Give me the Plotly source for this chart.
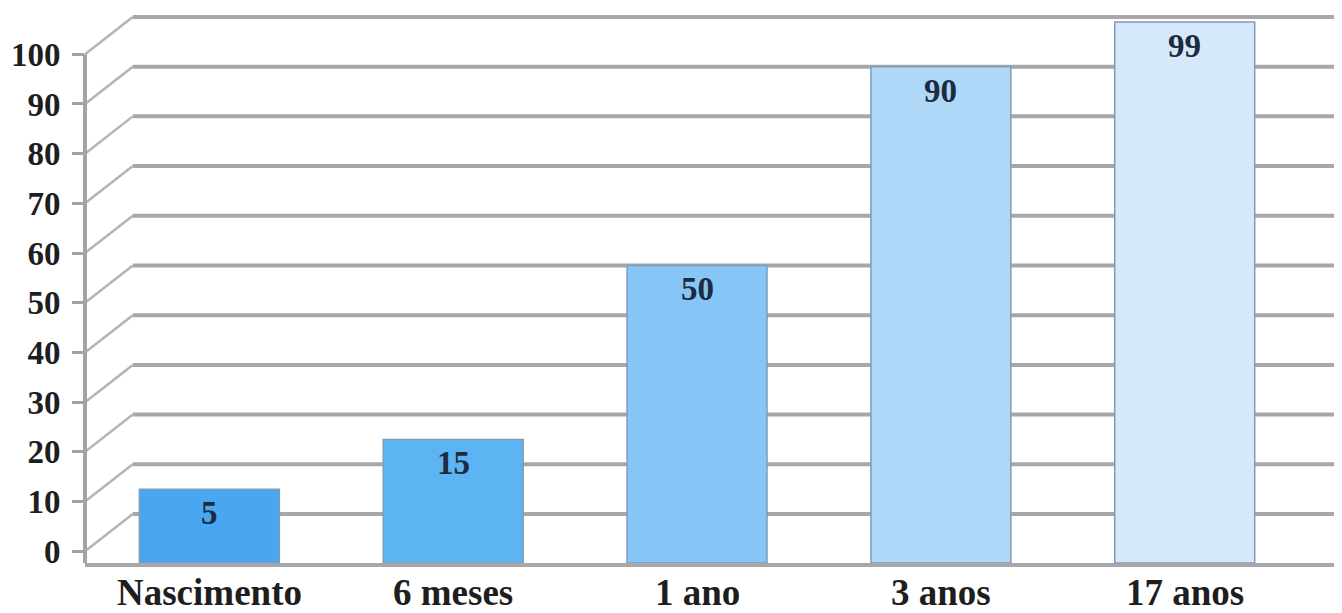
import plotly.graph_objects as go

categories = ['Nascimento', '6 meses', '1 ano', '3 anos', '17 anos']
values = [5, 15, 50, 90, 99]
bar_colors = ['#48a7f0', '#5db4f3', '#86c6f6', '#afd8f8', '#d5e9fb']
tick_values = [0, 10, 20, 30, 40, 50, 60, 70, 80, 90, 100]

FLOOR = -9.86       # floor of the pseudo 3D box, in back-wall units
DEPTH = 7.5         # vertical offset between front axis and back wall
WALL_X = 0.038      # where the back wall starts, in paper units

grid_color = '#a7a7aa'
serif = 'Liberation Serif'

fig = go.Figure()

fig.add_trace(go.Bar(
	x=categories,
	y=[v - FLOOR for v in values],
	base=FLOOR,
	marker=dict(color=bar_colors, line=dict(color='#7f9cb6', width=1.5)),
	hoverinfo='skip'
))

shapes = []
for t in tick_values:
	# back wall grid line
	shapes.append(dict(type='line', xref='paper', yref='y', x0=WALL_X, x1=1,
		y0=t, y1=t, line=dict(color=grid_color, width=4), layer='below'))
	# perspective line from front axis to back wall
	shapes.append(dict(type='line', xref='paper', yref='y', x0=0, x1=WALL_X,
		y0=t - DEPTH, y1=t, line=dict(color='#b4b4b7', width=2.5), layer='below'))
# front vertical axis
shapes.append(dict(type='line', xref='paper', yref='y', x0=0, x1=0,
	y0=FLOOR, y1=tick_values[-1] - DEPTH, line=dict(color='#a2a2a8', width=4)))

annotations = []
for c, v in zip(categories, values):
	# value label inside the bar
	annotations.append(dict(x=c, y=v, text='<b>%d</b>' % v, showarrow=False,
		yanchor='top', yshift=-4,
		font=dict(family=serif, size=33, color='#1d2b40')))
	# category label under the floor
	annotations.append(dict(x=c, xref='x', y=0, yref='paper', text='<b>%s</b>' % c,
		showarrow=False, yanchor='top', yshift=-8, borderpad=0,
		font=dict(family=serif, size=37, color='#1e1e1e')))

# the page body has an 8px margin, so the figure is a bit smaller than the window
fig.update_layout(
	width=1334, height=605,
	margin=dict(l=77, r=0, t=4, b=50),
	paper_bgcolor='white', plot_bgcolor='white',
	showlegend=False,
	bargap=0.426,
	shapes=shapes,
	annotations=annotations,
	xaxis=dict(
		range=[-0.51, 4.645],
		automargin=False,
		showgrid=False, zeroline=False,
		showline=True, linecolor='#a7a7aa', linewidth=4,
		ticks='', showticklabels=False
	),
	yaxis=dict(
		range=[FLOOR, 101.0],
		automargin=False,
		showgrid=False, zeroline=False, showline=False,
		tickmode='array',
		tickvals=[t - DEPTH for t in tick_values],
		ticktext=[str(t) for t in tick_values],
		ticks='outside', ticklen=12, tickwidth=3, tickcolor='#a2a2a8',
		ticklabelstandoff=5,
		tickfont=dict(family=serif, size=33, color='#1e1e1e', weight='bold')
	)
)

fig.write_html('out.html')
